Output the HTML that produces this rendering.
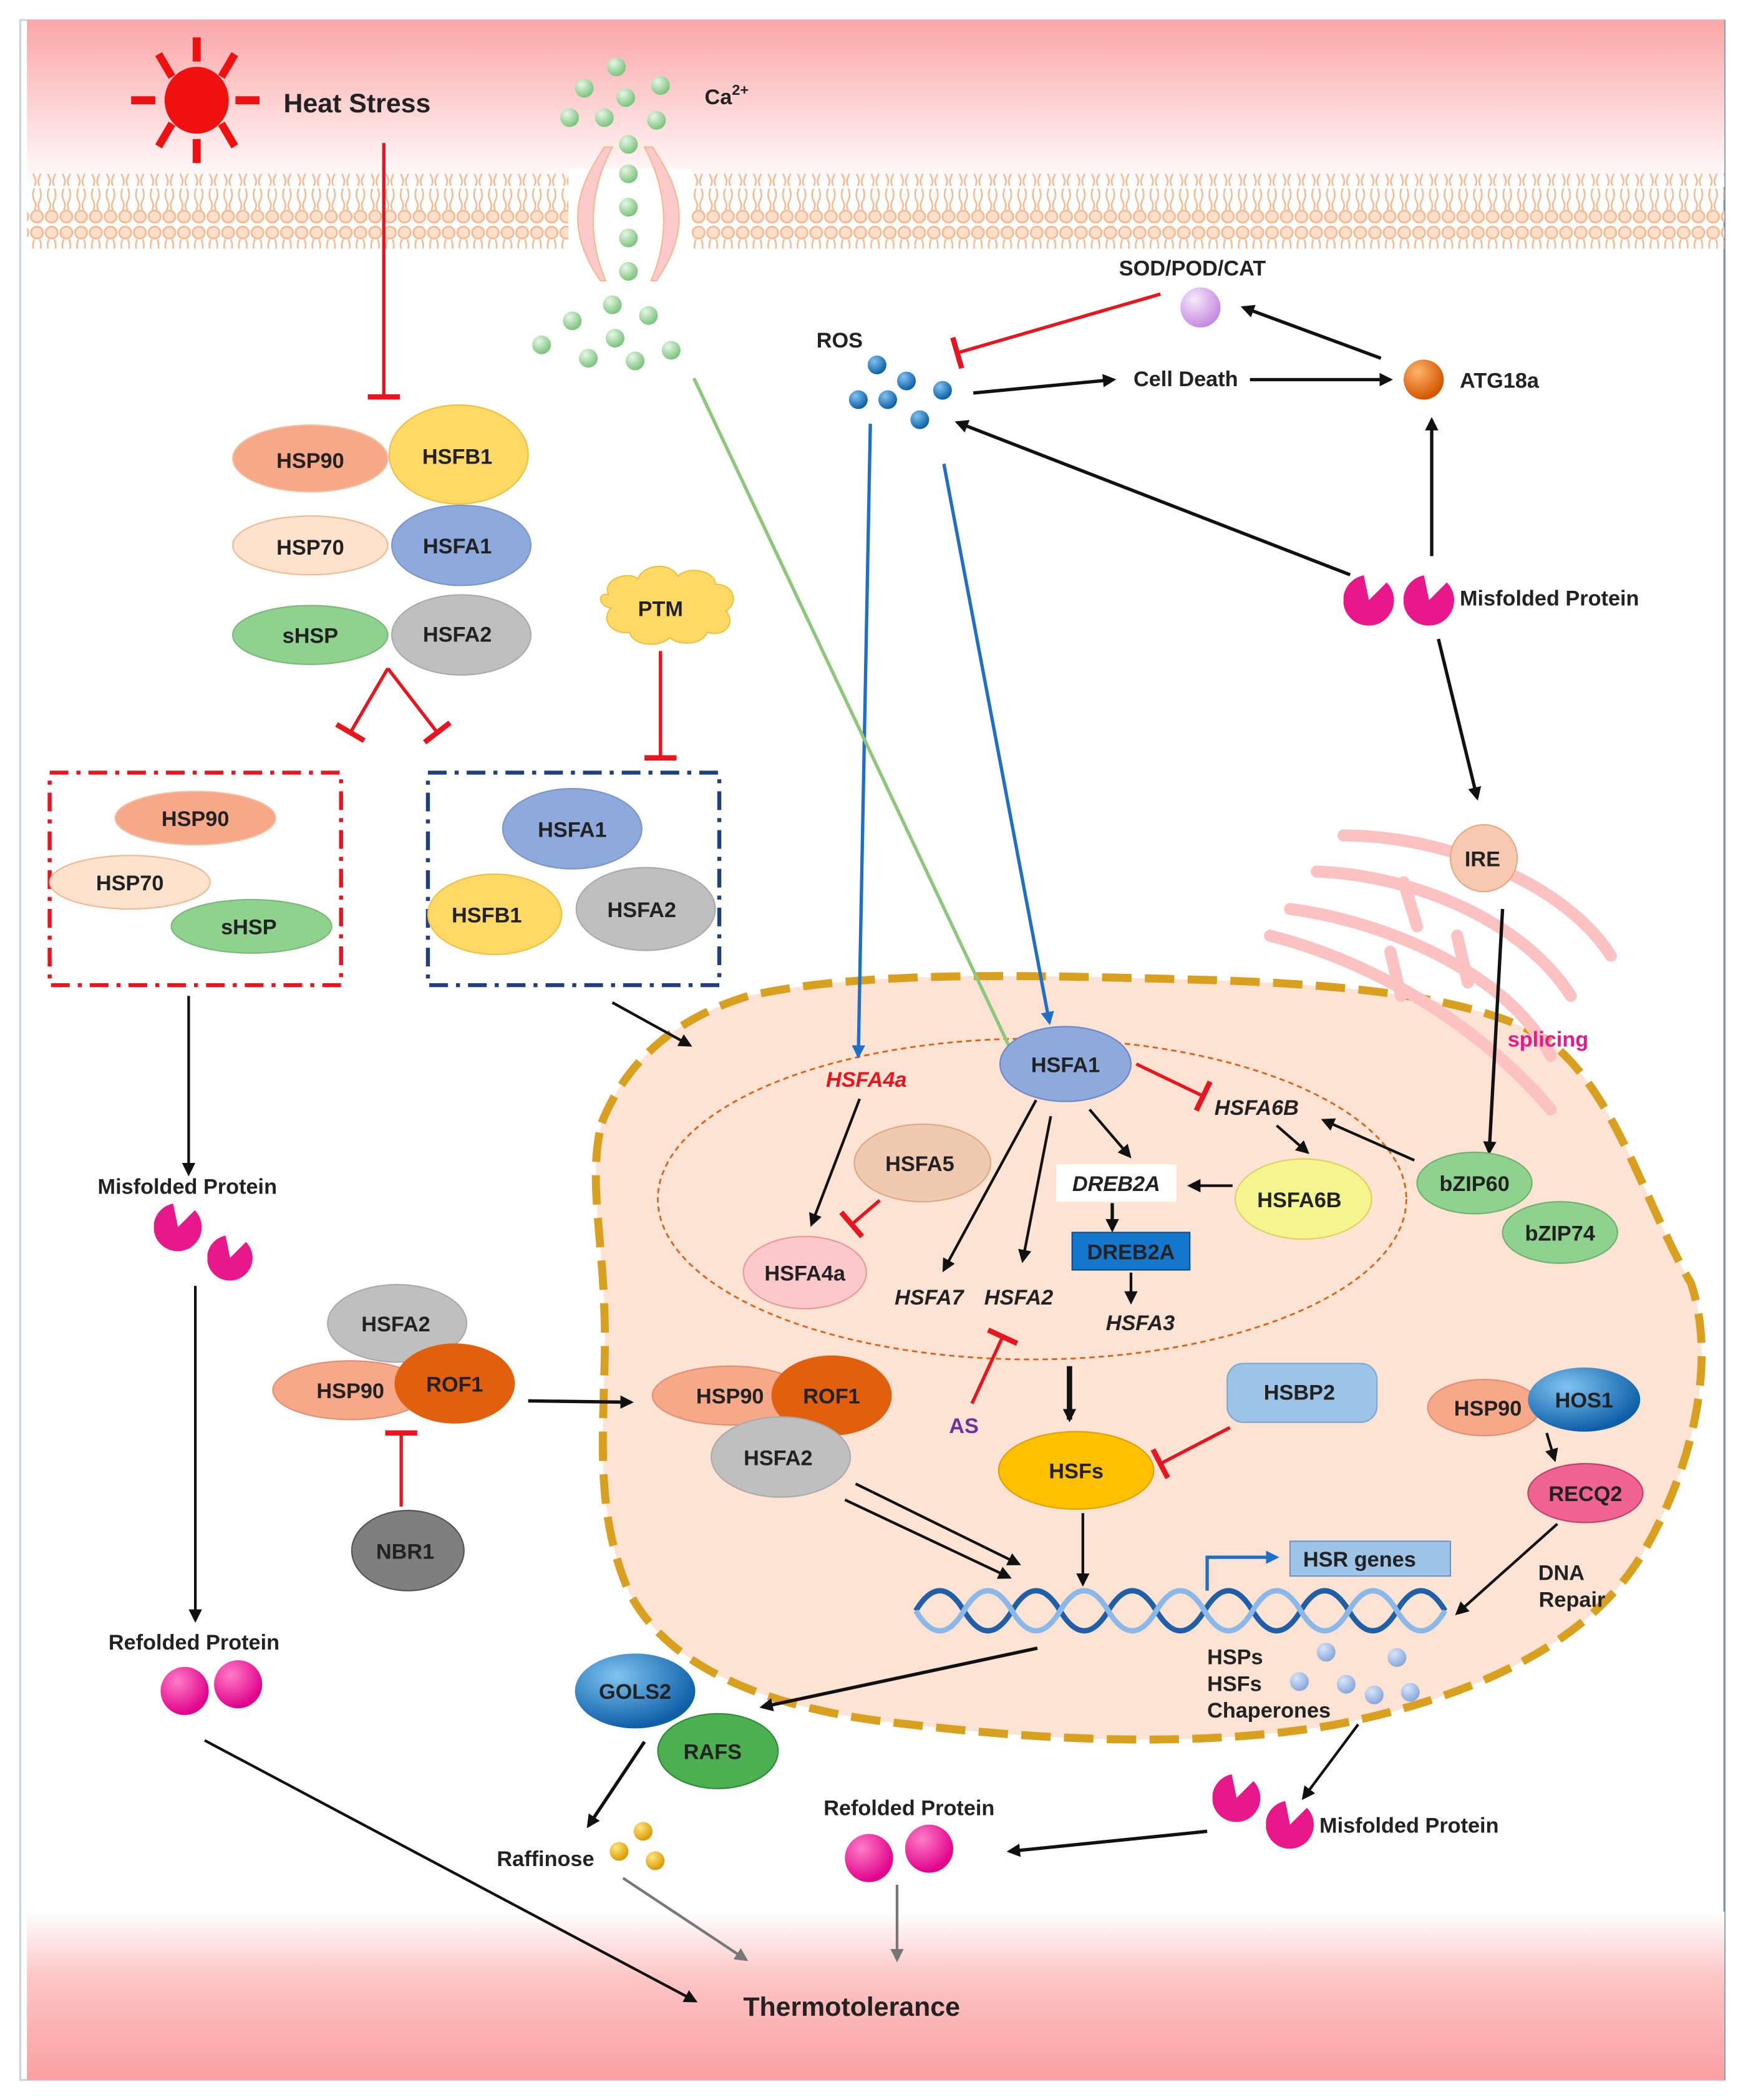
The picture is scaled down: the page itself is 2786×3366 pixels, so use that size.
<!DOCTYPE html>
<html><head><meta charset="utf-8"><style>
html,body{margin:0;padding:0;background:#fff}
svg{display:block}
text{font-family:"Liberation Sans",sans-serif;font-weight:bold;font-size:16px;fill:#222}
</style></head><body>
<svg width="2786" height="3366" viewBox="0 0 1300 1571" xmlns="http://www.w3.org/2000/svg">
<defs>
<linearGradient id="top" x1="0" y1="0" x2="0" y2="1"><stop offset="0" stop-color="#fba5a7"/><stop offset="1" stop-color="#fff"/></linearGradient>
<linearGradient id="bot" x1="0" y1="0" x2="0" y2="1"><stop offset="0" stop-color="#fff"/><stop offset="0.4" stop-color="#fdc4c4"/><stop offset="1" stop-color="#fba0a2"/></linearGradient>
<radialGradient id="gG" cx="0.35" cy="0.3" r="0.7"><stop offset="0" stop-color="#e6f7e6"/><stop offset="1" stop-color="#7cc47c"/></radialGradient>
<radialGradient id="gB" cx="0.35" cy="0.3" r="0.7"><stop offset="0" stop-color="#7fc3f0"/><stop offset="1" stop-color="#0d5fa8"/></radialGradient>
<radialGradient id="gP" cx="0.35" cy="0.3" r="0.7"><stop offset="0" stop-color="#f7e8fb"/><stop offset="1" stop-color="#c58be0"/></radialGradient>
<radialGradient id="gO" cx="0.35" cy="0.3" r="0.7"><stop offset="0" stop-color="#ffb36b"/><stop offset="1" stop-color="#d45500"/></radialGradient>
<radialGradient id="gK" cx="0.35" cy="0.3" r="0.7"><stop offset="0" stop-color="#ff7cc8"/><stop offset="1" stop-color="#e0008a"/></radialGradient>
<radialGradient id="gY" cx="0.35" cy="0.3" r="0.7"><stop offset="0" stop-color="#ffe680"/><stop offset="1" stop-color="#d99a00"/></radialGradient>
<radialGradient id="gL" cx="0.35" cy="0.3" r="0.7"><stop offset="0" stop-color="#d8e6fb"/><stop offset="1" stop-color="#8aa8dc"/></radialGradient>
<pattern id="mem" width="11" height="56" patternUnits="userSpaceOnUse">
<circle cx="5.5" cy="6" r="4.5" fill="#fde0cc" stroke="#f7b890" stroke-width="1.3"/>
<circle cx="5.5" cy="50" r="4.5" fill="#fde0cc" stroke="#f7b890" stroke-width="1.3"/>
<path d="M3.5 11 q-2 5 0 9 t0 7 M7.5 11 q2 5 0 9 t0 7 M3.5 29 q-2 5 0 9 t0 7 M7.5 29 q2 5 0 9 t0 7" fill="none" stroke="#f7b890" stroke-width="1.2"/>
</pattern>
<marker id="ak" markerWidth="10" markerHeight="10" refX="8" refY="5" orient="auto" markerUnits="userSpaceOnUse"><path d="M0,0 L10,5 L0,10 z" fill="#111"/></marker>
<marker id="ab" markerWidth="10" markerHeight="10" refX="8" refY="5" orient="auto" markerUnits="userSpaceOnUse"><path d="M0,0 L10,5 L0,10 z" fill="#1f6fc8"/></marker>
<marker id="ag" markerWidth="10" markerHeight="10" refX="8" refY="5" orient="auto" markerUnits="userSpaceOnUse"><path d="M0,0 L10,5 L0,10 z" fill="#8dc87a"/></marker>
<marker id="ay" markerWidth="10" markerHeight="10" refX="8" refY="5" orient="auto" markerUnits="userSpaceOnUse"><path d="M0,0 L10,5 L0,10 z" fill="#777"/></marker>
<marker id="tr" markerWidth="4" markerHeight="24" refX="2" refY="12" orient="auto" markerUnits="userSpaceOnUse"><rect x="0" y="0" width="4" height="24" fill="#e8141e"/></marker>
<symbol id="pac" viewBox="-20 -20 40 40"><path d="M0 0 L14 -14 A20 20 0 1 1 -4 -19.6 Z" fill="#e8178a"/></symbol>
</defs>

<rect x="15" y="15" width="1275" height="1541" fill="#fff" stroke="#c7d3e6" stroke-width="1.5"/>
<line x1="1290" y1="15" x2="1290" y2="1556" stroke="#6f8fc6" stroke-width="1.5"/>
<rect x="20" y="15" width="1270" height="125" fill="url(#top)"/>
<rect x="20" y="1430" width="1270" height="126" fill="url(#bot)"/>
<rect x="20" y="130" width="1270" height="56" fill="url(#mem)"/>

<!-- sun -->
<g fill="#f01010"><ellipse cx="147" cy="75" rx="24" ry="25"/>
<rect x="144" y="28" width="6" height="18"/><rect x="144" y="104" width="6" height="18"/>
<rect x="98" y="72" width="18" height="6"/><rect x="176" y="72" width="18" height="6"/>
<path d="M116 42 l5-3 l10 17 l-5 3z M178 42 l-5-3 l-10 17 l5 3z M116 108 l5 3 l10-17 l-5-3z M178 108 l-5 3 l-10-17 l5-3z"/></g>
<text x="212" y="84" style="font-size:20px">Heat Stress</text>

<!-- channel -->
<rect x="425" y="126" width="92" height="65" fill="#fff"/>
<path d="M458 110 L452 110 C436 135,418 165,449 210 L453 210 C438 175,442 140,458 110Z" fill="#fccaca" stroke="#f7b890"/>
<path d="M482 110 L488 110 C504 135,522 165,491 210 L487 210 C502 175,498 140,482 110Z" fill="#fccaca" stroke="#f7b890"/>
<g fill="url(#gG)">
<circle cx="461" cy="50" r="7"/><circle cx="437" cy="66" r="7"/><circle cx="494" cy="64" r="7"/><circle cx="468" cy="73" r="7"/><circle cx="426" cy="88" r="7"/><circle cx="452" cy="88" r="7"/><circle cx="491" cy="90" r="7"/>
<circle cx="470" cy="108" r="7"/><circle cx="470" cy="130" r="7"/><circle cx="470" cy="155" r="7"/><circle cx="470" cy="178" r="7"/><circle cx="470" cy="203" r="7"/>
<circle cx="458" cy="228" r="7"/><circle cx="428" cy="240" r="7"/><circle cx="485" cy="236" r="7"/><circle cx="460" cy="253" r="7"/><circle cx="405" cy="258" r="7"/><circle cx="440" cy="268" r="7"/><circle cx="475" cy="270" r="7"/><circle cx="502" cy="262" r="7"/></g>
<text x="527" y="78">Ca<tspan dy="-7" style="font-size:11px">2+</tspan></text>

<line x1="287" y1="107" x2="287" y2="297" stroke="#e8141e" stroke-width="2.5" marker-end="url(#tr)"/>

<!-- nucleus -->
<path d="M450 840 C470 790,510 760,560 745 C650 725,780 730,900 733 C1000 736,1110 745,1160 780 C1210 820,1230 900,1265 960 C1285 1020,1265 1100,1230 1160 C1190 1230,1100 1270,1000 1290 C900 1308,780 1302,680 1290 C580 1280,500 1250,470 1190 C440 1120,455 1050,452 980 C450 920,440 880,450 840Z" fill="#fde3d3" stroke="#d9a020" stroke-width="6" stroke-dasharray="22 10"/>
<ellipse cx="772" cy="897" rx="280" ry="120" fill="none" stroke="#e06010" stroke-width="1.3" stroke-dasharray="4 3"/>

<!-- ER -->
<g fill="none" stroke="#fcc2c2" stroke-width="9" stroke-linecap="round">
<path d="M1005 625 C1080 625,1170 660,1205 715"/>
<path d="M985 652 C1060 655,1140 690,1175 745"/>
<path d="M965 680 C1040 690,1130 730,1160 790"/>
<path d="M950 700 C1030 720,1110 770,1160 830"/>
<line x1="1050" y1="660" x2="1060" y2="693"/><line x1="1090" y1="700" x2="1098" y2="735"/><line x1="1040" y1="712" x2="1048" y2="745"/>
</g>

<!-- left cluster -->
<ellipse cx="232" cy="343" rx="58" ry="25" fill="#f6a888" stroke="#f1c0a0"/>
<ellipse cx="343" cy="340" rx="52" ry="37" fill="#ffd966" stroke="#f0c040"/>
<ellipse cx="232" cy="408" rx="58" ry="22" fill="#fde2ce" stroke="#f4b890"/>
<ellipse cx="345" cy="408" rx="52" ry="30" fill="#8ea9db" stroke="#7a95c8"/>
<ellipse cx="232" cy="475" rx="58" ry="22" fill="#8fd18f" stroke="#7ab87a"/>
<ellipse cx="345" cy="475" rx="52" ry="30" fill="#bfbfbf" stroke="#aaa"/>
<text x="232" y="350" text-anchor="middle">HSP90</text><text x="342" y="347" text-anchor="middle">HSFB1</text>
<text x="232" y="415" text-anchor="middle">HSP70</text><text x="342" y="414" text-anchor="middle">HSFA1</text>
<text x="232" y="481" text-anchor="middle">sHSP</text><text x="342" y="480" text-anchor="middle">HSFA2</text>
<line x1="290" y1="500" x2="262" y2="548" stroke="#e8141e" stroke-width="2.5" marker-end="url(#tr)"/>
<line x1="290" y1="500" x2="327" y2="548" stroke="#e8141e" stroke-width="2.5" marker-end="url(#tr)"/>

<!-- PTM -->
<path d="M455 445 c-5-12 15-18 22-12 c5-12 25-12 30-2 c8-8 28-4 28 6 c14 0 18 14 8 20 c8 10-2 20-14 16 c-4 10-22 10-28 4 c-8 8-28 6-30-4 c-14 2-22-10-14-18 c-10-2-10-12-2-10z" fill="#ffd966" stroke="#f0c040"/>
<text x="494" y="461" text-anchor="middle">PTM</text>
<line x1="494" y1="487" x2="494" y2="567" stroke="#e8141e" stroke-width="2.5" marker-end="url(#tr)"/>

<rect x="37" y="578" width="218" height="159" fill="none" stroke="#e8141e" stroke-width="3" stroke-dasharray="14 6 3 6"/>
<ellipse cx="146" cy="612" rx="60" ry="20" fill="#f6a888" stroke="#f1c0a0"/>
<ellipse cx="97" cy="660" rx="60" ry="20" fill="#fde2ce" stroke="#f4b890"/>
<ellipse cx="188" cy="693" rx="60" ry="20" fill="#8fd18f" stroke="#7ab87a"/>
<text x="146" y="618" text-anchor="middle">HSP90</text><text x="97" y="666" text-anchor="middle">HSP70</text><text x="186" y="699" text-anchor="middle">sHSP</text>
<rect x="320" y="578" width="218" height="159" fill="none" stroke="#1f3f80" stroke-width="3" stroke-dasharray="14 6 3 6"/>
<ellipse cx="428" cy="620" rx="52" ry="30" fill="#8ea9db" stroke="#7a95c8"/>
<ellipse cx="370" cy="684" rx="50" ry="30" fill="#ffd966" stroke="#f0c040"/>
<ellipse cx="483" cy="680" rx="52" ry="31" fill="#bfbfbf" stroke="#aaa"/>
<text x="428" y="626" text-anchor="middle">HSFA1</text><text x="364" y="690" text-anchor="middle">HSFB1</text><text x="480" y="686" text-anchor="middle">HSFA2</text>

<line x1="141" y1="745" x2="141" y2="878" stroke="#111" stroke-width="2" marker-end="url(#ak)"/>
<line x1="458" y1="750" x2="516" y2="782" stroke="#111" stroke-width="2" marker-end="url(#ak)"/>

<text x="140" y="893" text-anchor="middle">Misfolded Protein</text>
<use href="#pac" x="115" y="900" width="36" height="36"/>
<use href="#pac" x="155" y="924" width="34" height="34"/>
<line x1="146" y1="962" x2="146" y2="1212" stroke="#111" stroke-width="2" marker-end="url(#ak)"/>
<text x="145" y="1234" text-anchor="middle">Refolded Protein</text>
<circle cx="138" cy="1265" r="18" fill="url(#gK)"/><circle cx="178" cy="1260" r="18" fill="url(#gK)"/>
<line x1="153" y1="1302" x2="520" y2="1497" stroke="#111" stroke-width="2" marker-end="url(#ak)"/>

<text x="628" y="260" text-anchor="middle">ROS</text>
<g fill="url(#gB)"><circle cx="656" cy="273" r="7"/><circle cx="678" cy="285" r="7"/><circle cx="642" cy="299" r="7"/><circle cx="664" cy="299" r="7"/><circle cx="705" cy="292" r="7"/><circle cx="688" cy="314" r="7"/></g>
<text x="892" y="206" text-anchor="middle">SOD/POD/CAT</text>
<circle cx="898" cy="230" r="15" fill="url(#gP)"/>
<line x1="868" y1="220" x2="716" y2="264" stroke="#e8141e" stroke-width="2.5" marker-end="url(#tr)"/>
<line x1="1033" y1="268" x2="930" y2="230" stroke="#111" stroke-width="2.5" marker-end="url(#ak)"/>
<line x1="728" y1="294" x2="833" y2="284" stroke="#111" stroke-width="2.5" marker-end="url(#ak)"/>
<text x="887" y="289" text-anchor="middle">Cell Death</text>
<line x1="935" y1="284" x2="1040" y2="284" stroke="#111" stroke-width="2.5" marker-end="url(#ak)"/>
<circle cx="1065" cy="284" r="15" fill="url(#gO)"/>
<text x="1092" y="290">ATG18a</text>
<line x1="1071" y1="416" x2="1071" y2="314" stroke="#111" stroke-width="2.5" marker-end="url(#ak)"/>
<line x1="1010" y1="430" x2="716" y2="316" stroke="#111" stroke-width="2.5" marker-end="url(#ak)"/>
<use href="#pac" x="1005" y="430" width="38" height="38"/>
<use href="#pac" x="1050" y="430" width="38" height="38"/>
<text x="1092" y="453">Misfolded Protein</text>
<line x1="1076" y1="478" x2="1105" y2="597" stroke="#111" stroke-width="2.5" marker-end="url(#ak)"/>
<circle cx="1110" cy="642" r="25" fill="#f7c9b0" stroke="#e8a880"/>
<text x="1109" y="648" text-anchor="middle">IRE</text>
<line x1="1124" y1="680" x2="1114" y2="862" stroke="#111" stroke-width="2.5" marker-end="url(#ak)"/>
<text x="1158" y="783" text-anchor="middle" style="fill:#e8178a">splicing</text>

<line x1="651" y1="317" x2="642" y2="790" stroke="#1f6fc8" stroke-width="2.5" marker-end="url(#ab)"/>
<line x1="706" y1="347" x2="785" y2="765" stroke="#1f6fc8" stroke-width="2.5" marker-end="url(#ab)"/>
<line x1="519" y1="283" x2="763" y2="800" stroke="#8dc87a" stroke-width="2.5" marker-end="url(#ag)"/>

<ellipse cx="797" cy="796" rx="49" ry="28" fill="#8ea9db" stroke="#6a8ac8"/>
<text x="797" y="802" text-anchor="middle">HSFA1</text>
<text x="648" y="813" text-anchor="middle" style="fill:#e8141e;font-style:italic">HSFA4a</text>
<line x1="850" y1="796" x2="900" y2="820" stroke="#e8141e" stroke-width="2.5" marker-end="url(#tr)"/>
<text x="940" y="834" text-anchor="middle" style="font-style:italic">HSFA6B</text>
<line x1="955" y1="842" x2="978" y2="862" stroke="#111" stroke-width="2" marker-end="url(#ak)"/>
<line x1="1058" y1="868" x2="990" y2="838" stroke="#111" stroke-width="2" marker-end="url(#ak)"/>
<line x1="643" y1="822" x2="607" y2="916" stroke="#111" stroke-width="2" marker-end="url(#ak)"/>
<ellipse cx="690" cy="870" rx="51" ry="29" fill="#f0cab0" stroke="#e0a880"/>
<text x="688" y="876" text-anchor="middle">HSFA5</text>
<line x1="658" y1="898" x2="637" y2="916" stroke="#e8141e" stroke-width="2.5" marker-end="url(#tr)"/>
<ellipse cx="602" cy="952" rx="46" ry="27" fill="#fcc8cc" stroke="#e89898"/>
<text x="602" y="958" text-anchor="middle">HSFA4a</text>
<line x1="775" y1="823" x2="706" y2="950" stroke="#111" stroke-width="2" marker-end="url(#ak)"/>
<line x1="786" y1="835" x2="765" y2="943" stroke="#111" stroke-width="2" marker-end="url(#ak)"/>
<line x1="815" y1="830" x2="845" y2="865" stroke="#111" stroke-width="2" marker-end="url(#ak)"/>
<rect x="790" y="871" width="90" height="28" fill="#fff"/>
<text x="835" y="891" text-anchor="middle" style="font-style:italic">DREB2A</text>
<line x1="922" y1="887" x2="890" y2="887" stroke="#111" stroke-width="2" marker-end="url(#ak)"/>
<ellipse cx="975" cy="897" rx="51" ry="30" fill="#f5f590" stroke="#e0d060"/>
<text x="972" y="903" text-anchor="middle">HSFA6B</text>
<line x1="832" y1="900" x2="832" y2="920" stroke="#111" stroke-width="2.5" marker-end="url(#ak)"/>
<rect x="802" y="922" width="88" height="28" fill="#1577cc" stroke="#0c4f90"/>
<text x="846" y="942" text-anchor="middle">DREB2A</text>
<line x1="846" y1="952" x2="846" y2="974" stroke="#111" stroke-width="2" marker-end="url(#ak)"/>
<text x="695" y="976" text-anchor="middle" style="font-style:italic">HSFA7</text>
<text x="762" y="976" text-anchor="middle" style="font-style:italic">HSFA2</text>
<text x="853" y="995" text-anchor="middle" style="font-style:italic">HSFA3</text>
<line x1="727" y1="1050" x2="750" y2="1000" stroke="#e8141e" stroke-width="2.5" marker-end="url(#tr)"/>
<text x="721" y="1072" text-anchor="middle" style="fill:#7030a0">AS</text>

<ellipse cx="1103" cy="885" rx="43" ry="23" fill="#8fd18f" stroke="#6fb06f"/>
<text x="1103" y="891" text-anchor="middle">bZIP60</text>
<ellipse cx="1167" cy="922" rx="43" ry="23" fill="#8fd18f" stroke="#6fb06f"/>
<text x="1167" y="928" text-anchor="middle">bZIP74</text>

<line x1="800" y1="1022" x2="800" y2="1062" stroke="#111" stroke-width="4" marker-end="url(#ak)"/>
<ellipse cx="805" cy="1100" rx="58" ry="29" fill="#ffc000" stroke="#e0a000"/>
<text x="805" y="1106" text-anchor="middle">HSFs</text>
<rect x="918" y="1020" width="112" height="44" rx="12" fill="#9dc3e6" stroke="#7aa8d0"/>
<text x="972" y="1047" text-anchor="middle">HSBP2</text>
<line x1="920" y1="1068" x2="868" y2="1095" stroke="#e8141e" stroke-width="2.5" marker-end="url(#tr)"/>
<ellipse cx="1110" cy="1053" rx="42" ry="21" fill="#f6a888" stroke="#e09070"/>
<ellipse cx="1185" cy="1047" rx="42" ry="24" fill="url(#gB)"/>
<text x="1113" y="1059" text-anchor="middle">HSP90</text><text x="1185" y="1053" text-anchor="middle">HOS1</text>
<line x1="1157" y1="1072" x2="1163" y2="1092" stroke="#111" stroke-width="2" marker-end="url(#ak)"/>
<ellipse cx="1186" cy="1117" rx="43" ry="22" fill="#f06292" stroke="#c0406c"/>
<text x="1186" y="1123" text-anchor="middle">RECQ2</text>
<line x1="1165" y1="1140" x2="1090" y2="1207" stroke="#111" stroke-width="2" marker-end="url(#ak)"/>
<text x="1168" y="1182" text-anchor="middle">DNA</text><text x="1176" y="1202" text-anchor="middle">Repair</text>

<ellipse cx="297" cy="990" rx="52" ry="29" fill="#bfbfbf" stroke="#aaa"/>
<ellipse cx="262" cy="1040" rx="58" ry="22" fill="#f6a888" stroke="#e09070"/>
<ellipse cx="340" cy="1035" rx="45" ry="30" fill="#e0600e"/>
<text x="296" y="996" text-anchor="middle">HSFA2</text><text x="262" y="1046" text-anchor="middle">HSP90</text><text x="340" y="1041" text-anchor="middle">ROF1</text>
<line x1="300" y1="1127" x2="300" y2="1072" stroke="#e8141e" stroke-width="2.5" marker-end="url(#tr)"/>
<ellipse cx="305" cy="1160" rx="42" ry="30" fill="#7f7f7f" stroke="#555"/>
<text x="303" y="1166" text-anchor="middle">NBR1</text>
<line x1="395" y1="1048" x2="472" y2="1049" stroke="#111" stroke-width="2.5" marker-end="url(#ak)"/>
<ellipse cx="546" cy="1044" rx="58" ry="22" fill="#f6a888" stroke="#e09070"/>
<ellipse cx="622" cy="1044" rx="45" ry="30" fill="#e0600e"/>
<ellipse cx="584" cy="1090" rx="52" ry="30" fill="#bfbfbf" stroke="#aaa"/>
<text x="546" y="1050" text-anchor="middle">HSP90</text><text x="622" y="1050" text-anchor="middle">ROF1</text><text x="582" y="1096" text-anchor="middle">HSFA2</text>
<line x1="640" y1="1110" x2="762" y2="1170" stroke="#111" stroke-width="2" marker-end="url(#ak)"/>
<line x1="632" y1="1122" x2="755" y2="1180" stroke="#111" stroke-width="2" marker-end="url(#ak)"/>
<line x1="810" y1="1132" x2="810" y2="1185" stroke="#111" stroke-width="2" marker-end="url(#ak)"/>

<g fill="none" stroke-width="4">
<path d="M685 1205 q18 -30 36 0 t36 0 t36 0 t36 0 t36 0 t36 0 t36 0 t36 0 t36 0 t36 0 t36 0" stroke="#1f5fa8"/>
<path d="M685 1205 q18 30 36 0 t36 0 t36 0 t36 0 t36 0 t36 0 t36 0 t36 0 t36 0 t36 0 t36 0" stroke="#8ab8e8"/>
</g>
<polyline points="903,1190 903,1165 955,1165" fill="none" stroke="#1f6fc8" stroke-width="2.5" marker-end="url(#ab)"/>
<rect x="965" y="1153" width="120" height="26" fill="#9dc3e6" stroke="#6a98c8"/>
<text x="1017" y="1172" text-anchor="middle">HSR genes</text>
<text x="903" y="1245">HSPs</text><text x="903" y="1265">HSFs</text><text x="903" y="1285">Chaperones</text>
<g fill="url(#gL)"><circle cx="992" cy="1236" r="7"/><circle cx="1045" cy="1240" r="7"/><circle cx="972" cy="1258" r="7"/><circle cx="1007" cy="1260" r="7"/><circle cx="1028" cy="1268" r="7"/><circle cx="1055" cy="1266" r="7"/></g>
<line x1="1016" y1="1290" x2="975" y2="1345" stroke="#111" stroke-width="2" marker-end="url(#ak)"/>
<use href="#pac" x="907" y="1327" width="36" height="36"/>
<use href="#pac" x="947" y="1347" width="36" height="36"/>
<text x="987" y="1371">Misfolded Protein</text>
<line x1="903" y1="1370" x2="755" y2="1385" stroke="#111" stroke-width="2.5" marker-end="url(#ak)"/>
<text x="680" y="1358" text-anchor="middle">Refolded Protein</text>
<circle cx="650" cy="1390" r="18" fill="url(#gK)"/><circle cx="695" cy="1383" r="18" fill="url(#gK)"/>
<line x1="671" y1="1410" x2="671" y2="1466" stroke="#777" stroke-width="2" marker-end="url(#ay)"/>

<line x1="776" y1="1233" x2="570" y2="1277" stroke="#111" stroke-width="2.5" marker-end="url(#ak)"/>
<ellipse cx="475" cy="1265" rx="45" ry="28" fill="url(#gB)"/>
<text x="475" y="1271" text-anchor="middle">GOLS2</text>
<ellipse cx="537" cy="1310" rx="45" ry="28" fill="#4caf50" stroke="#2e8b3e"/>
<text x="533" y="1316" text-anchor="middle">RAFS</text>
<line x1="482" y1="1303" x2="440" y2="1366" stroke="#111" stroke-width="2.5" marker-end="url(#ak)"/>
<text x="408" y="1396" text-anchor="middle">Raffinose</text>
<circle cx="481" cy="1370" r="7" fill="url(#gY)"/><circle cx="463" cy="1385" r="7" fill="url(#gY)"/><circle cx="490" cy="1392" r="7" fill="url(#gY)"/>
<line x1="466" y1="1405" x2="558" y2="1466" stroke="#777" stroke-width="2" marker-end="url(#ay)"/>

<text x="637" y="1508" text-anchor="middle" style="font-size:20px">Thermotolerance</text>
</svg>
</body></html>
